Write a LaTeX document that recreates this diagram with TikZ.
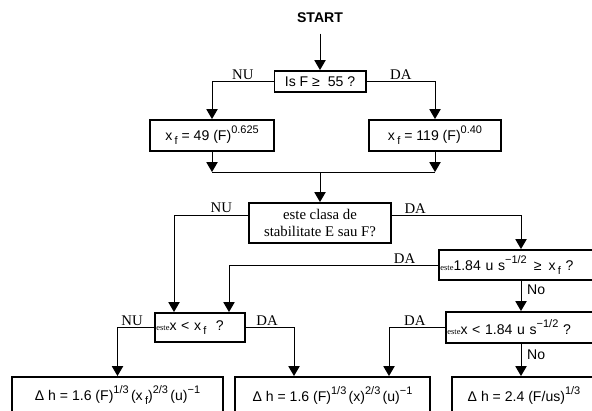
\documentclass[tikz,border=0pt]{standalone}
\usepackage{fontspec}
\setmainfont{Liberation Sans}
\newfontfamily\serifx{Liberation Serif}
\usetikzlibrary{arrows.meta}
\newcommand{\este}{{\fontsize{6}{6}\serifx este}}
\newcommand{\sups}[1]{\raisebox{0.5em}{\fontsize{7.8}{8}\selectfont #1}}
\newcommand{\subf}{\,\raisebox{-0.3em}{\fontsize{7.8}{8}\selectfont f}}

\begin{document}
\begin{tikzpicture}[x=0.025cm,y=-0.025cm,
  box/.style={draw,line width=1.4pt,inner sep=1pt},
  arr/.style={-{Triangle[width=8pt,length=7pt]},line width=0.7pt},
  lbl/.style={font=\fontsize{10.5}{11}\serifx,inner sep=1pt},
  nolbl/.style={font=\fontsize{10}{11}\selectfont,inner sep=1pt,right,xshift=3pt}]
\path[use as bounding box] (0,0) rectangle (592,410);
\clip (0,0) rectangle (592,410);
\node[font=\bfseries] (start) at (320,18) {START};
\node[box,minimum width=2.275cm,minimum height=0.525cm] (q1) at (320,81.5) {Is F ≥ \ 55 ?};
\node[box,minimum width=3.1cm,minimum height=0.775cm] (b1) at (212,135.5) {x\subf{} = 49 (F)\sups{0.625}};
\node[box,minimum width=3.3cm,minimum height=0.775cm] (b2) at (435,135.5) {x\subf{} = 119 (F)\sups{0.40}};
\node[box,minimum width=3.55cm,minimum height=1.0cm,align=center,font=\fontsize{10.5}{12}\serifx] (q2) at (320,223) {este clasa de\\stabilitate E sau F?};
\node[box,text width=4.03cm,align=left,minimum height=0.75cm] (q3) at (521,265) {\este1.84 u s\sups{−1/2} \,≥\, x\subf{} ?};
\node[box,text width=3.68cm,align=left,minimum height=0.775cm] (q4) at (521,327.5) {\este x < 1.84 u s\sups{−1/2} ?};
\node[box,text width=2.18cm,align=left,minimum height=0.725cm] (q5) at (200,327.5) {\este x < x\subf{} \ ?};
\node[box,minimum width=5.275cm,minimum height=0.9cm] (r1) at (117.5,395) {Δ h = 1.6 (F)\sups{1/3}\,(x\subf)\sups{2/3}\,(u)\sups{−1}};
\node[box,minimum width=4.875cm,minimum height=0.9cm] (r2) at (332.5,395) {Δ h = 1.6 (F)\sups{1/3}\,(x)\sups{2/3}\,(u)\sups{−1}};
\node[box,minimum width=3.6cm,minimum height=0.9cm] (r3) at (524,395) {Δ h = 2.4 (F/us)\sups{1/3}};
\coordinate (jn) at (320,172);
\coordinate (jl) at (b1.south |- jn);
\coordinate (jr) at (b2.south |- jn);
\coordinate (q5a) at ([xshift=0.5cm]q5.north west);
\coordinate (q5b) at ([xshift=-0.425cm]q5.north east);
\coordinate (r2a) at ([xshift=1.5cm]r2.north west);
\coordinate (r2b) at ([xshift=-1.05cm]r2.north east);
\draw[arr,shorten <=4pt] (start.south) -- (q1.north);
\draw[arr] (q1.west) -| node[lbl,pos=0.25,above]{NU} (b1.north);
\draw[arr] (q1.east) -| node[lbl,pos=0.25,above]{DA} (b2.north);
\draw[arr] (b1.south) -- (jl);
\draw[arr] (b2.south) -- (jr);
\draw[line width=0.7pt] (jl) -- (jr);
\draw[arr] (jn) -- (jn |- q2.north);
\draw[arr] ([yshift=0.2cm]q2.west) -| node[lbl,pos=0.18,above]{NU} (q5a);
\draw[arr] ([yshift=0.2cm]q2.east) -| node[lbl,pos=0.09,above]{DA} (q3.north);
\draw[arr] (q3.west) -| node[lbl,pos=0.08,above]{DA} (q5b);
\draw[arr] (q3.south) -- node[nolbl,pos=0.3]{No} (q4.north);
\draw[arr] (q4.west) -| node[lbl,pos=0.27,above]{DA} (r2b);
\draw[arr] (q4.south) -- node[nolbl,pos=0.35]{No} (q4.south |- r3.north);
\draw[arr] (q5.west) -| node[lbl,pos=0.3,above]{NU} (r1.north);
\draw[arr] (q5.east) -| node[lbl,pos=0.22,above]{DA} (r2a);
\end{tikzpicture}
\end{document}
